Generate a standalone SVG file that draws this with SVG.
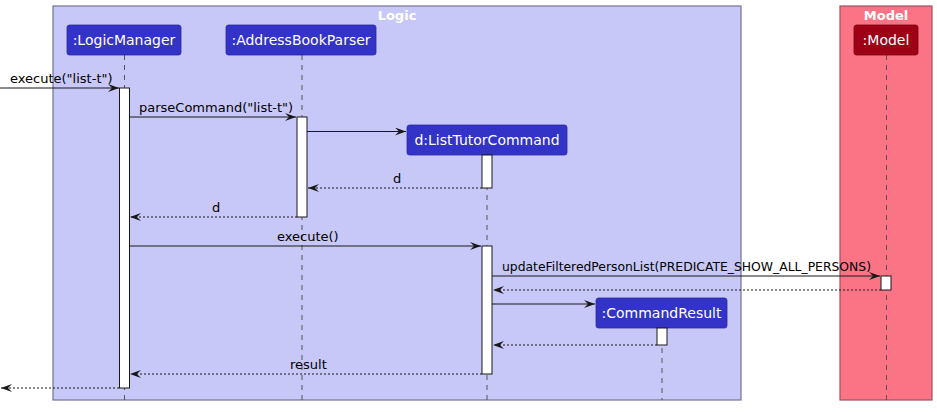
<svg xmlns="http://www.w3.org/2000/svg" width="937" height="412" viewBox="0 0 937 412">
<defs>
<marker id="ah" markerWidth="12" markerHeight="10" refX="11" refY="4" orient="auto" markerUnits="userSpaceOnUse">
<path d="M0,0 L11,4 L0,8 L4,4 Z" fill="#181818"/>
</marker>
<style>
.frame-l{fill:#C8C8F8;stroke:#727295;stroke-width:1.2}
.frame-m{fill:#FA7486;stroke:#A05060;stroke-width:1.2}
.ftitle{font-family:"DejaVu Sans","Liberation Sans",sans-serif;font-size:13px;font-weight:bold;fill:#ffffff;text-anchor:middle}
.node{fill:#3333C8;stroke:#2a2aa0;stroke-width:0.8}
.nodem{fill:#9E0016;stroke:#7a0010;stroke-width:0.8}
.nlabel{font-family:"DejaVu Sans","Liberation Sans",sans-serif;font-size:14px;fill:#ffffff;text-anchor:middle}
.life{stroke:#555;stroke-width:1;stroke-dasharray:5,5;fill:none}
.act{fill:#ffffff;stroke:#181818;stroke-width:1}
.msg{stroke:#181818;stroke-width:1;fill:none;marker-end:url(#ah)}
.ret{stroke:#181818;stroke-width:1;stroke-dasharray:2,2;fill:none;marker-end:url(#ah)}
.mlabel{font-family:"DejaVu Sans","Liberation Sans",sans-serif;font-size:13px;fill:#000000}
</style>
</defs>
<g id="frame-logic">
<rect class="frame-l" x="53" y="6" width="688" height="394"/>
<text class="ftitle" x="397" y="20">Logic</text>
</g>
<g id="frame-model">
<rect class="frame-m" x="840" y="6" width="92" height="394"/>
<text class="ftitle" x="886" y="20">Model</text>
</g>
<g id="lifelines">
<line class="life" x1="124.5" y1="55" x2="124.5" y2="400"/>
<line class="life" x1="302" y1="55" x2="302" y2="400"/>
<line class="life" x1="487" y1="155" x2="487" y2="400"/>
<line class="life" x1="662" y1="328" x2="662" y2="400"/>
<line class="life" x1="886.5" y1="55" x2="886.5" y2="400"/>
</g>
<g id="LogicManager">
<rect class="node" x="67" y="25" width="114" height="30" rx="2.5"/>
<text class="nlabel" x="124" y="45">:LogicManager</text>
<rect class="act" x="119.5" y="88" width="10" height="300"/>
</g>
<g id="AddressBookParser">
<rect class="node" x="226" y="25" width="150" height="30" rx="2.5"/>
<text class="nlabel" x="301" y="45">:AddressBookParser</text>
<rect class="act" x="297" y="117" width="10" height="100"/>
</g>
<g id="ListTutorCommand">
<rect class="node" x="407" y="125" width="160" height="30" rx="2.5"/>
<text class="nlabel" x="487" y="145">d:ListTutorCommand</text>
<rect class="act" x="482" y="155" width="10" height="33"/>
<rect class="act" x="482" y="246" width="10" height="128"/>
</g>
<g id="CommandResult">
<rect class="node" x="596" y="298" width="131" height="30" rx="2.5"/>
<text class="nlabel" x="661.5" y="318">:CommandResult</text>
<rect class="act" x="657" y="328" width="10" height="17"/>
</g>
<g id="Model">
<rect class="nodem" x="854" y="25" width="64" height="30" rx="2.5"/>
<text class="nlabel" x="886" y="45">:Model</text>
<rect class="act" x="881" y="276" width="10" height="14"/>
</g>
<g id="connectors">
<line class="msg" x1="0" y1="88" x2="119" y2="88"/>
<text class="mlabel" x="10" y="83">execute("list-t")</text>
<line class="msg" x1="130" y1="117" x2="296" y2="117"/>
<text class="mlabel" x="139" y="112">parseCommand("list-t")</text>
<line class="msg" x1="307" y1="131.5" x2="406" y2="131.5"/>
<line class="ret" x1="482" y1="188" x2="308" y2="188"/>
<text class="mlabel" x="393" y="183">d</text>
<line class="ret" x1="297" y1="217" x2="130" y2="217"/>
<text class="mlabel" x="212" y="212">d</text>
<line class="msg" x1="130" y1="246" x2="481" y2="246"/>
<text class="mlabel" x="277" y="241">execute()</text>
<line class="msg" x1="492" y1="276" x2="880" y2="276"/>
<text class="mlabel" x="502" y="271" textLength="369" lengthAdjust="spacingAndGlyphs">updateFilteredPersonList(PREDICATE_SHOW_ALL_PERSONS)</text>
<line class="ret" x1="881" y1="290" x2="493" y2="290"/>
<line class="msg" x1="492" y1="304" x2="595" y2="304"/>
<line class="ret" x1="657" y1="345" x2="493" y2="345"/>
<line class="ret" x1="482" y1="374" x2="130" y2="374"/>
<text class="mlabel" x="290" y="369">result</text>
<line class="ret" x1="119" y1="388" x2="1" y2="388"/>
</g>
</svg>
